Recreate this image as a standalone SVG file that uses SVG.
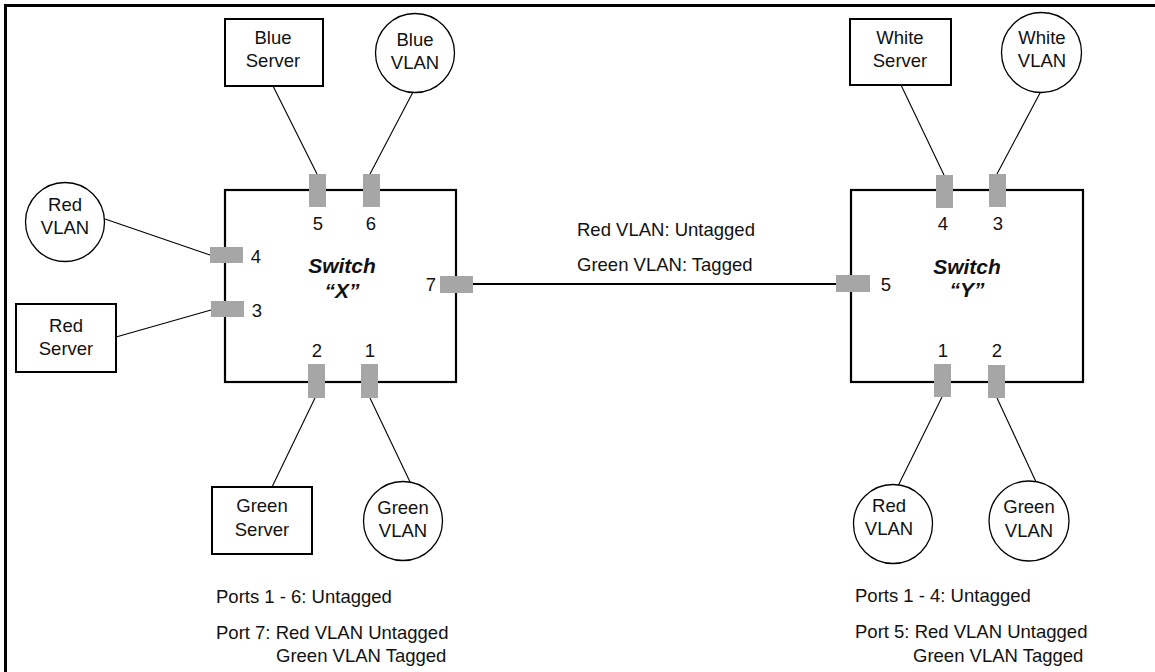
<svg xmlns="http://www.w3.org/2000/svg" width="1155" height="672" viewBox="0 0 1155 672">
  <style>
    text { font-family: "Liberation Sans", Arial, sans-serif; font-size: 18.5px; fill: #111; }
    .c { text-anchor: middle; }
    .sw { font-weight: bold; font-style: italic; font-size: 21px; text-anchor: middle; }
    .box { fill: #fff; stroke: #000; stroke-width: 2; }
    .vlan { fill: #fff; stroke: #000; stroke-width: 1.3; }
    .switch { fill: #fff; stroke: #000; stroke-width: 2.2; }
    .port { fill: #a6a6a6; }
    .wire { stroke: #000; stroke-width: 1.1; fill: none; }
    .trunk { stroke: #000; stroke-width: 2; fill: none; }
  </style>

  <rect x="0" y="0" width="1155" height="672" fill="#fff"/>
  <!-- frame -->
  <path d="M5.5,672 V5.5 H1155" fill="none" stroke="#000" stroke-width="3"/>

  <!-- connectors -->
  <g id="connectors">
    <line class="wire" x1="273" y1="86" x2="317" y2="174"/>
    <line class="wire" x1="413" y1="92" x2="370" y2="174"/>
    <line class="wire" x1="105" y1="219" x2="210" y2="255"/>
    <line class="wire" x1="116" y1="337" x2="211" y2="310"/>
    <line class="wire" x1="315" y1="398" x2="272" y2="487"/>
    <line class="wire" x1="370" y1="398" x2="411" y2="484"/>
    <line class="wire" x1="901" y1="85" x2="944" y2="175"/>
    <line class="wire" x1="1040" y1="93" x2="997" y2="174"/>
    <line class="wire" x1="942" y1="397" x2="898" y2="486"/>
    <line class="wire" x1="997" y1="398" x2="1037" y2="484"/>
    <line class="trunk" x1="473" y1="284" x2="836" y2="284"/>
  </g>

  <!-- Switch X -->
  <g id="switch-x">
    <rect class="switch" x="225" y="190" width="231" height="192"/>
    <rect class="port" x="309" y="174" width="17" height="33"/>
    <rect class="port" x="363" y="174" width="17" height="33"/>
    <rect class="port" x="210" y="247" width="33" height="16"/>
    <rect class="port" x="211" y="301" width="33" height="16"/>
    <rect class="port" x="440" y="276" width="33" height="17"/>
    <rect class="port" x="308" y="364" width="17" height="34"/>
    <rect class="port" x="361" y="364" width="17" height="34"/>
    <text class="c" x="318" y="230">5</text>
    <text class="c" x="371" y="230">6</text>
    <text class="c" x="256" y="263">4</text>
    <text class="c" x="257" y="317">3</text>
    <text class="c" x="431" y="291">7</text>
    <text class="c" x="317" y="357">2</text>
    <text class="c" x="370" y="357">1</text>
    <text class="sw" x="342" y="273">Switch</text>
    <text class="sw" x="342" y="298">“X”</text>
  </g>

  <!-- Switch Y -->
  <g id="switch-y">
    <rect class="switch" x="851" y="190" width="232" height="192"/>
    <rect class="port" x="936" y="175" width="17" height="33"/>
    <rect class="port" x="989" y="174" width="17" height="33"/>
    <rect class="port" x="836" y="275" width="34" height="17"/>
    <rect class="port" x="934" y="364" width="17" height="33"/>
    <rect class="port" x="988" y="365" width="17" height="33"/>
    <text class="c" x="943" y="230">4</text>
    <text class="c" x="998" y="230">3</text>
    <text class="c" x="886" y="291">5</text>
    <text class="c" x="943" y="357">1</text>
    <text class="c" x="997" y="357">2</text>
    <text class="sw" x="967" y="274">Switch</text>
    <text class="sw" x="967" y="297">“Y”</text>
  </g>

  <!-- end nodes -->
  <g id="blue-server">
    <rect class="box" x="225" y="19" width="98" height="67"/>
    <text class="c" x="273" y="44">Blue</text>
    <text class="c" x="273" y="67">Server</text>
  </g>
  <g id="blue-vlan">
    <circle class="vlan" cx="415" cy="53" r="39.5"/>
    <text class="c" x="415" y="46">Blue</text>
    <text class="c" x="415" y="69">VLAN</text>
  </g>
  <g id="red-vlan-x">
    <circle class="vlan" cx="65" cy="222" r="39.5"/>
    <text class="c" x="65" y="211">Red</text>
    <text class="c" x="65" y="234">VLAN</text>
  </g>
  <g id="red-server">
    <rect class="box" x="16" y="304" width="100" height="68"/>
    <text class="c" x="66" y="332">Red</text>
    <text class="c" x="66" y="355">Server</text>
  </g>
  <g id="green-server">
    <rect class="box" x="212" y="487" width="100" height="67"/>
    <text class="c" x="262" y="512">Green</text>
    <text class="c" x="262" y="536">Server</text>
  </g>
  <g id="green-vlan-x">
    <circle class="vlan" cx="403" cy="521" r="39.5"/>
    <text class="c" x="403" y="514">Green</text>
    <text class="c" x="403" y="537">VLAN</text>
  </g>
  <g id="white-server">
    <rect class="box" x="850" y="19" width="101" height="66"/>
    <text class="c" x="900" y="44">White</text>
    <text class="c" x="900" y="67">Server</text>
  </g>
  <g id="white-vlan">
    <circle class="vlan" cx="1041.5" cy="52.5" r="40"/>
    <text class="c" x="1042" y="44">White</text>
    <text class="c" x="1042" y="67">VLAN</text>
  </g>
  <g id="red-vlan-y">
    <circle class="vlan" cx="893" cy="524" r="39.5"/>
    <text class="c" x="889" y="512">Red</text>
    <text class="c" x="889" y="535">VLAN</text>
  </g>
  <g id="green-vlan-y">
    <circle class="vlan" cx="1029" cy="521" r="40"/>
    <text class="c" x="1029" y="513">Green</text>
    <text class="c" x="1029" y="537">VLAN</text>
  </g>

  <!-- link labels -->
  <g id="trunk-label">
    <text x="577" y="236">Red VLAN: Untagged</text>
    <text x="577" y="271">Green VLAN: Tagged</text>
  </g>

  <!-- port notes -->
  <g id="notes-x">
    <text x="216" y="603">Ports 1 - 6: Untagged</text>
    <text x="216" y="639">Port 7: Red VLAN Untagged</text>
    <text x="276" y="662">Green VLAN Tagged</text>
  </g>
  <g id="notes-y">
    <text x="855" y="602">Ports 1 - 4: Untagged</text>
    <text x="855" y="638">Port 5: Red VLAN Untagged</text>
    <text x="913" y="662">Green VLAN Tagged</text>
  </g>
</svg>
